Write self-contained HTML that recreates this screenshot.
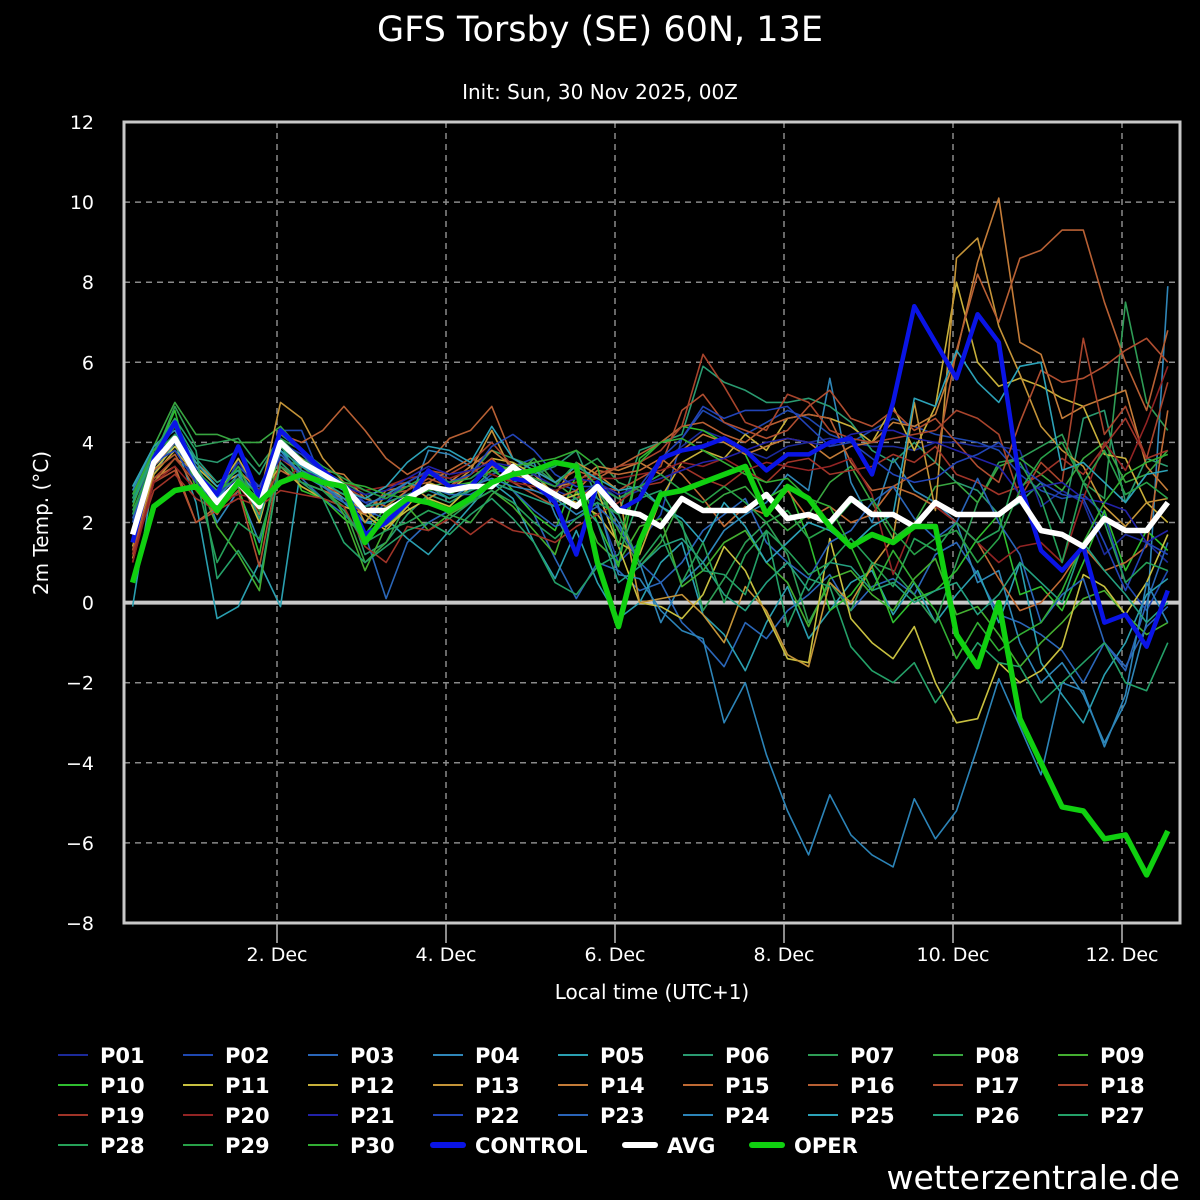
<!DOCTYPE html>
<html><head><meta charset="utf-8"><style>
html,body{margin:0;padding:0;background:#000;}
svg{display:block;font-family:"DejaVu Sans","Liberation Sans",sans-serif;}
</style></head><body>
<svg id="chart" width="1200" height="1200" viewBox="0 0 1200 1200" xmlns="http://www.w3.org/2000/svg">
<rect x="0" y="0" width="1200" height="1200" fill="#000"/>
<text x="600" y="41" fill="#fff" font-size="35" text-anchor="middle">GFS Torsby (SE) 60N, 13E</text>
<text x="600" y="99" fill="#fff" font-size="20" text-anchor="middle">Init: Sun, 30 Nov 2025, 00Z</text>
<g id="grid"></g>
<g id="series"></g>
<rect x="124" y="122" width="1056" height="801" fill="none" stroke="#c8c8c8" stroke-width="3"/>
<g id="axes"></g>
<text transform="translate(48,523) rotate(-90)" fill="#fff" font-size="20" text-anchor="middle">2m Temp. (°C)</text>
<text x="652" y="999" fill="#fff" font-size="20" text-anchor="middle">Local time (UTC+1)</text>
<g id="legend"></g>
<text x="1180" y="1189" fill="#fff" font-size="33" text-anchor="end">wetterzentrale.de</text>
</svg>
<script>
const yTicks = [12,10,8,6,4,2,0,-2,-4,-6,-8];
const yTickLabels = ["12","10","8","6","4","2","0","\u22122","\u22124","\u22126","\u22128"];
const xTickDays = [2,4,6,8,10,12];
const xTickLabels = ["2. Dec","4. Dec","6. Dec","8. Dec","10. Dec","12. Dec"];
const memberNames = ["P01","P02","P03","P04","P05","P06","P07","P08","P09","P10","P11","P12","P13","P14","P15","P16","P17","P18","P19","P20","P21","P22","P23","P24","P25","P26","P27","P28","P29","P30"];
const memberColors = ["#1c2a9a","#1f48b0","#2a66b8","#2f86b8","#2a9fb0","#2a9a70","#2e9c55","#38a640","#44ae30","#2fbd2f","#c8c040","#c8b03a","#c49438","#c47c38","#bf6a34","#b86034","#b04e30","#a8442c","#a03428","#922424","#2222a8","#2244b8","#2a64b8","#2c84b8","#2ca2b8","#24a080","#24a068","#26a058","#28a048","#32ae34"];
const P01=[2.0,3.5,4.2,3.0,2.6,3.5,2.8,4.0,3.5,3.2,3.0,2.5,2.2,2.8,3.2,3.0,3.1,3.4,3.2,3.0,2.8,2.6,3.0,2.6,2.8,3.5,3.9,4.3,4.1,3.8,3.6,3.9,4.0,4.1,4.0,3.9,3.9,3.8,4.0,4.0,3.9,3.9,3.8,2.4,2.8,2.5,1.2,1.7,1.5,1.0];
const P02=[2.2,3.8,4.0,3.0,2.4,3.6,2.5,4.3,4.3,3.0,2.6,2.0,2.5,3.0,3.3,3.1,2.8,3.2,3.4,3.6,3.0,2.8,2.4,1.0,1.5,2.2,4.1,4.8,4.5,4.2,4.5,4.8,4.6,4.2,4.0,4.3,4.6,4.4,4.2,4.1,4.0,3.8,3.2,2.8,2.6,2.7,2.2,0.5,-0.2,0.8];
const P03=[1.8,3.4,3.9,3.2,2.8,3.0,2.9,3.8,3.1,2.6,2.2,1.7,0.1,1.5,2.0,2.3,2.5,3.0,2.8,2.2,1.1,0.1,1.0,0.8,0.3,0.5,-0.5,-1.0,-1.6,-0.5,-0.9,-0.2,0.2,0.7,-0.2,0.4,0.6,0.2,1.2,1.5,0.7,-0.3,-0.5,-0.8,-1.2,-2.0,-1.0,-1.7,0.0,1.5];
const P04=[2.8,3.9,4.3,3.3,2.0,2.8,1.5,3.5,3.0,2.8,2.5,2.0,1.9,2.4,3.8,3.7,3.4,3.0,3.2,3.5,2.2,1.2,2.8,2.0,1.0,-0.5,0.5,1.0,1.8,2.2,2.5,3.2,2.8,5.6,3.0,2.0,3.6,2.8,2.5,2.0,0.5,0.8,-1.0,-2.0,-1.5,-2.3,-3.5,-2.5,-0.5,7.9];
const P05=[-0.1,3.2,4.0,2.5,-0.4,-0.1,1.0,-0.1,3.5,3.2,2.5,2.0,2.1,1.6,1.2,1.8,2.4,3.0,2.6,1.5,0.6,1.8,0.5,-0.4,0.0,1.0,1.5,-0.3,-0.8,-1.7,-0.5,0.4,-0.9,-0.2,0.5,0.8,-0.3,0.5,-0.5,0.2,0.8,-0.5,1.0,-1.5,-2.3,-3.0,-1.8,-1.0,0.2,0.6];
const P06=[2.6,3.7,4.2,3.6,3.5,3.8,3.2,4.2,3.8,3.3,2.8,1.2,1.5,2.2,2.7,2.5,2.8,3.3,3.0,3.2,3.4,3.8,2.6,2.2,3.8,4.0,4.2,5.9,5.5,5.3,5.0,5.0,5.1,4.9,4.5,3.8,3.5,4.0,3.5,3.0,2.8,2.2,2.5,3.0,2.0,4.6,4.8,2.5,3.6,3.4];
const P07=[2.5,3.6,4.9,3.9,4.0,4.1,3.4,4.1,3.6,3.3,3.0,2.7,2.2,2.5,2.9,3.0,3.2,3.8,3.6,3.4,3.0,3.3,3.6,3.0,2.8,2.4,2.0,-0.2,0.6,1.5,2.0,1.2,-0.5,0.5,-0.2,1.0,0.8,0.2,-0.5,1.0,2.5,3.5,3.6,3.9,4.2,3.0,2.6,7.5,5.0,4.3];
const P08=[2.9,3.9,5.0,4.2,4.2,4.0,4.0,4.4,3.8,2.8,2.4,1.0,1.5,2.5,2.6,2.2,2.0,2.7,3.1,3.6,3.0,2.6,2.9,1.8,0.9,1.5,2.6,2.3,2.7,2.9,2.3,1.8,2.2,3.0,3.4,2.5,1.6,2.0,2.9,3.0,2.5,3.4,3.6,3.2,2.8,3.6,4.0,3.0,3.2,3.8];
const P09=[2.4,3.8,4.6,3.2,1.9,1.2,0.3,3.6,3.4,3.0,2.2,0.8,1.9,2.4,1.8,2.2,2.5,2.8,2.4,1.8,1.2,2.8,1.5,1.0,1.9,2.1,0.4,0.8,1.5,1.8,1.0,0.5,-0.6,0.6,0.8,0.2,-0.2,0.6,1.1,-0.3,-0.1,-0.8,-1.6,-1.0,-0.5,0.1,0.3,-0.3,-0.8,-0.5];
const P10=[2.0,3.6,4.8,2.8,2.3,2.9,1.2,4.0,2.8,2.6,2.1,1.7,2.4,2.6,2.9,2.7,3.0,3.4,2.8,2.2,1.8,3.2,2.0,0.9,3.6,4.0,4.4,4.3,4.0,3.7,2.6,2.9,1.6,-0.2,0.2,0.9,-0.5,0.1,0.3,0.8,1.6,2.2,0.2,0.4,-0.2,1.0,2.3,0.8,1.8,1.3];
const P11=[1.5,3.3,3.9,3.4,2.9,3.2,2.0,3.9,3.6,3.0,2.6,2.3,1.9,2.3,2.6,2.4,2.9,3.4,3.3,3.0,2.5,2.7,2.8,1.4,0.0,-0.1,-0.4,0.2,1.4,0.8,-0.3,-1.4,-1.5,1.6,-0.4,-1.0,-1.4,-0.6,-2.0,-3.0,-2.9,-1.5,-2.0,-1.7,-1.1,0.7,0.4,-0.3,0.5,1.7];
const P12=[1.4,3.2,3.8,3.2,2.8,3.6,2.7,3.4,2.9,2.6,2.4,2.2,1.8,2.4,3.0,2.8,3.2,3.6,3.5,3.2,2.7,2.5,2.2,1.5,1.2,2.6,3.5,3.8,3.6,4.2,3.8,4.6,4.7,4.6,4.4,4.0,4.9,3.8,4.9,8.0,6.0,5.4,5.6,5.4,5.1,4.9,3.7,3.6,2.5,2.0];
const P13=[1.1,3.0,3.6,3.3,2.5,3.0,2.6,5.0,4.6,3.6,3.0,2.0,2.7,3.0,2.6,2.9,3.3,4.3,3.2,3.0,2.7,3.5,3.2,2.8,0.0,0.1,0.2,-0.3,-1.0,0.4,-0.2,-1.3,-1.6,0.5,0.0,0.9,1.6,5.0,2.3,8.6,9.1,6.9,5.7,4.4,3.8,3.4,2.4,1.9,2.5,2.6];
const P14=[1.3,3.4,4.0,3.5,3.0,3.3,2.8,4.0,3.5,3.3,3.2,2.6,2.4,2.8,3.2,3.0,3.4,3.8,3.4,3.1,2.9,3.0,3.4,3.3,3.5,3.2,3.8,4.2,4.0,3.7,3.9,4.1,4.0,3.6,3.9,4.0,4.5,4.4,4.7,6.2,8.5,10.1,6.5,6.2,4.6,4.9,5.1,5.3,3.4,2.8];
const P15=[1.2,3.1,3.4,2.0,2.4,2.9,2.5,3.3,3.0,2.8,2.6,2.2,2.8,2.9,3.0,3.3,3.6,3.4,3.2,2.8,2.6,2.8,3.3,3.2,3.3,3.6,3.2,2.6,1.9,2.4,2.2,2.8,2.1,2.4,2.0,2.2,2.9,2.7,2.4,2.0,1.5,0.6,-0.2,0.0,0.6,1.4,0.8,1.0,1.4,4.8];
const P16=[1.7,3.3,3.7,2.8,2.2,3.0,2.2,4.2,4.0,4.3,4.9,4.3,3.6,3.2,3.5,4.1,4.3,4.9,3.6,3.3,3.0,3.3,3.1,3.4,3.7,4.0,4.4,4.5,4.2,4.0,4.4,4.6,4.7,4.6,3.5,2.8,2.9,3.2,3.5,6.3,8.2,7.0,8.6,8.8,9.3,9.3,7.5,6.0,4.8,6.8];
const P17=[1.3,3.0,3.3,2.0,2.3,2.8,0.9,3.6,3.2,2.9,2.7,2.4,2.7,2.8,3.1,2.9,3.2,3.6,3.0,2.7,2.4,2.6,2.9,2.8,3.1,3.4,4.8,5.2,4.5,4.3,4.1,4.3,4.9,5.3,4.6,4.4,4.8,4.3,4.6,4.0,3.4,3.0,4.5,5.8,5.5,5.6,5.9,6.3,6.6,6.0];
const P18=[1.0,3.1,3.6,3.0,2.6,2.9,2.3,3.4,3.1,3.0,2.9,2.6,2.9,3.0,3.3,3.2,3.5,4.0,3.4,3.1,2.9,3.1,3.2,3.4,3.5,3.8,4.4,6.2,5.4,4.5,4.3,5.2,5.0,4.3,4.1,4.0,4.1,4.2,4.3,4.8,4.6,4.2,2.6,3.5,3.0,6.6,4.2,4.9,3.6,5.5];
const P19=[1.2,2.8,3.2,2.6,2.3,2.6,2.4,2.8,2.7,2.6,2.4,1.4,1.0,1.9,1.8,2.1,1.7,2.1,1.8,1.7,1.5,1.9,2.2,2.5,2.9,3.0,3.4,3.1,2.9,3.3,3.0,3.5,3.6,3.2,3.3,3.4,3.7,3.5,3.9,3.2,3.0,2.7,2.9,3.2,3.6,3.2,3.9,4.6,3.6,3.8];
const P20=[1.0,3.0,3.4,2.8,2.5,2.7,2.6,3.0,3.4,3.2,3.0,2.8,2.9,3.1,3.2,3.1,3.3,3.2,3.0,2.9,2.8,3.0,3.1,3.1,3.2,3.3,3.5,3.4,3.6,3.3,3.5,3.4,3.3,3.4,3.6,2.7,0.7,2.0,2.4,2.0,1.5,1.0,1.4,1.5,1.0,2.6,4.0,3.3,4.5,5.9];
const P21=[1.8,3.5,4.0,3.1,2.7,3.1,2.8,3.6,3.3,3.1,2.9,2.7,2.8,3.1,3.4,3.2,3.3,3.5,3.4,3.2,2.9,3.1,3.0,2.7,2.9,3.1,3.3,3.5,3.6,3.8,4.0,4.1,4.0,3.9,4.2,4.3,4.3,4.1,4.0,3.8,3.6,3.4,2.7,2.9,3.0,2.6,2.5,2.3,1.5,1.8];
const P22=[2.0,3.5,3.8,3.0,2.6,3.4,2.9,4.0,3.7,3.2,2.8,2.5,2.6,3.0,3.3,3.0,3.2,3.9,4.2,3.8,3.2,2.9,2.9,2.6,2.9,3.6,4.1,4.9,4.6,4.8,4.8,4.9,4.4,3.9,4.0,3.6,3.2,3.0,3.1,3.5,3.7,4.0,3.4,3.0,2.7,2.6,1.5,0.3,1.5,1.2];
const P23=[2.1,3.6,4.1,3.3,2.5,2.9,2.6,3.7,3.2,2.9,2.5,2.3,2.1,2.6,2.9,2.7,2.7,3.0,2.8,2.3,1.9,2.1,2.4,1.9,1.0,0.5,1.0,1.8,2.2,2.6,1.5,1.0,0.6,1.5,1.8,2.5,2.9,2.1,1.6,2.0,3.1,2.0,1.2,-0.5,0.2,0.6,-1.0,-1.6,-0.6,-0.1];
const P24=[2.7,3.8,4.4,3.4,2.6,3.2,2.4,3.8,3.2,2.9,2.6,2.4,2.7,3.0,2.8,2.6,2.9,3.1,2.9,2.8,2.6,2.2,2.5,0.7,0.6,-0.2,-0.7,-0.9,-3.0,-2.0,-3.8,-5.2,-6.3,-4.8,-5.8,-6.3,-6.6,-4.9,-5.9,-5.2,-3.6,-1.9,-3.1,-4.3,-2.0,-2.2,-3.6,-2.3,0.5,-0.5];
const P25=[2.9,3.9,4.4,3.5,2.9,3.3,2.6,3.8,3.4,3.1,2.8,2.6,2.9,3.5,3.9,3.8,3.5,4.4,3.6,3.3,3.0,3.4,3.1,2.8,2.9,2.4,2.1,1.5,2.5,1.9,1.0,1.5,2.0,1.8,1.4,1.9,2.2,5.1,4.9,6.3,5.5,5.0,5.9,6.0,3.3,3.5,3.0,2.5,3.2,3.3];
const P26=[2.5,3.7,4.5,3.6,3.0,3.3,2.1,3.9,3.3,3.0,2.7,2.4,2.5,2.7,2.9,2.6,2.8,3.0,2.8,2.6,2.4,2.6,2.0,0.5,0.9,1.4,1.6,1.0,0.2,-0.2,0.5,1.0,0.3,1.0,0.9,0.3,0.5,0.0,0.3,0.5,-0.3,0.2,1.0,0.5,0.0,1.5,0.8,0.2,-0.5,0.0];
const P27=[2.6,3.8,4.6,3.8,0.6,1.3,0.5,3.5,3.0,2.6,1.5,1.0,1.4,1.8,2.0,1.7,2.2,2.6,2.1,1.5,0.5,0.2,0.9,1.2,2.6,2.8,1.9,0.8,0.7,0.2,1.8,-0.6,0.6,0.4,-1.1,-1.7,-2.0,-1.5,-2.5,-1.8,-1.0,-1.5,-1.6,-2.5,-2.0,-1.5,-1.0,-2.0,-2.2,-1.0];
const P28=[2.3,3.5,4.2,3.1,1.0,2.0,1.6,3.4,3.0,2.8,2.3,1.5,1.8,2.0,2.3,2.1,2.5,2.8,2.5,2.0,1.6,2.1,2.5,2.2,1.0,1.7,0.5,1.5,0.0,1.2,1.8,1.3,0.7,1.0,1.6,1.0,0.4,1.6,1.3,2.0,1.5,1.8,3.5,2.6,1.0,3.0,2.0,0.5,1.0,0.8];
const P29=[2.2,3.6,4.4,3.3,2.8,3.1,2.7,4.1,3.8,3.4,3.1,2.8,2.6,2.9,3.2,3.0,3.1,3.5,3.3,3.1,2.9,3.5,2.9,2.6,2.9,3.2,2.8,2.5,2.9,2.5,2.0,2.3,1.6,1.9,2.5,2.6,1.8,1.2,1.6,1.8,1.0,1.6,2.8,3.6,4.0,3.0,3.8,2.7,3.0,2.6];
const P30=[2.7,3.8,4.1,3.2,2.7,3.4,2.3,3.9,3.5,3.2,3.0,2.9,2.7,2.6,2.8,2.9,3.0,3.3,3.4,3.5,3.6,3.8,3.4,1.4,3.5,4.0,4.1,3.8,3.5,3.2,3.0,3.1,2.6,2.4,1.4,0.3,1.3,0.5,-0.2,-1.4,-0.5,-1.2,-0.8,-0.5,0.3,1.5,2.5,3.2,3.5,3.7];
const members=[P01,P02,P03,P04,P05,P06,P07,P08,P09,P10,P11,P12,P13,P14,P15,P16,P17,P18,P19,P20,P21,P22,P23,P24,P25,P26,P27,P28,P29,P30];
const control=[1.5,3.6,4.5,3.2,2.7,3.9,2.6,4.3,3.8,3.3,2.9,1.7,2.0,2.5,3.3,2.9,2.9,3.5,3.1,3.0,2.5,1.2,3.0,2.3,2.6,3.6,3.8,3.9,4.1,3.8,3.3,3.7,3.7,4.0,4.1,3.2,5.0,7.4,6.5,5.6,7.2,6.5,3.0,1.3,0.8,1.4,-0.5,-0.3,-1.1,0.3];
const avg=[1.7,3.5,4.1,3.2,2.5,3.0,2.4,4.0,3.5,3.2,2.9,2.3,2.3,2.6,2.9,2.8,2.9,2.9,3.4,3.0,2.7,2.4,2.9,2.3,2.2,1.9,2.6,2.3,2.3,2.3,2.7,2.1,2.2,2.0,2.6,2.2,2.2,1.9,2.5,2.2,2.2,2.2,2.6,1.8,1.7,1.4,2.1,1.8,1.8,2.5];
const oper=[0.5,2.4,2.8,2.9,2.3,3.0,2.5,3.0,3.2,3.0,2.9,1.5,2.2,2.6,2.5,2.3,2.6,3.0,3.2,3.3,3.5,3.4,1.0,-0.6,1.5,2.7,2.8,3.0,3.2,3.4,2.2,2.9,2.6,1.9,1.4,1.7,1.5,1.9,1.9,-0.8,-1.6,0.0,-2.9,-4.0,-5.1,-5.2,-5.9,-5.8,-6.8,-5.7];

const NS="http://www.w3.org/2000/svg";
const X0=124, X1=1180, Y0=122, Y1=923;
const yMin=-8, yMax=12;
const dayPx=84.5, day2X=277;
const startHours=-41;
function yScale(v){return Y1-(v-yMin)/(yMax-yMin)*(Y1-Y0);}
function xScaleHours(h){return day2X+h/24*dayPx;}
function xIdx(i){return xScaleHours(startHours+i*6);}
function mk(tag,attrs,parent){const e=document.createElementNS(NS,tag);for(const k in attrs)e.setAttribute(k,attrs[k]);parent.appendChild(e);return e;}

const grid=document.getElementById('grid'), axes=document.getElementById('axes');
yTicks.forEach((t,i)=>{
  const y=yScale(t);
  if(t!==0 && t!==yMax && t!==yMin){
    const l=mk('line',{x1:X0,x2:X1,y1:y,y2:y,stroke:'#8a8a8a','stroke-width':1.5,'stroke-dasharray':'6,5'},grid);
    
    
  }
  const tx=mk('text',{x:94,y:y+7,fill:'#fff','font-size':19,'text-anchor':'end'},axes);
  tx.textContent=yTickLabels[i];
  
  
});
const zl=mk('line',{x1:X0,x2:X1,y1:yScale(0),y2:yScale(0),stroke:'#c8c8c8','stroke-width':4},grid);


xTickDays.forEach((d,i)=>{
  const x=xScaleHours((d-2)*24);
  const l=mk('line',{x1:x,x2:x,y1:Y0,y2:Y1,stroke:'#8a8a8a','stroke-width':1.5,'stroke-dasharray':'6,5'},grid);
  
  
  const tk=mk('line',{x1:x,x2:x,y1:Y1,y2:Y1+20,stroke:'#bbb','stroke-width':1.5},axes);
  
  
  const tx=mk('text',{x:x,y:961,fill:'#fff','font-size':19,'text-anchor':'middle'},axes);
  tx.textContent=xTickLabels[i];
  
  
});

const series=document.getElementById('series');
function pathFor(arr){return arr.map((v,i)=>(i?'L':'M')+xIdx(i).toFixed(1)+','+yScale(v).toFixed(1)).join(' ');}
members.forEach((arr,k)=>{
  const p=mk('path',{d:pathFor(arr),fill:'none',stroke:memberColors[k],'stroke-width':1.6,'stroke-linejoin':'round'},series);
  
  
});
const pc=mk('path',{d:pathFor(control),fill:'none',stroke:'#0a14e6','stroke-width':4.5,'stroke-linejoin':'round'},series);


const pa=mk('path',{d:pathFor(avg),fill:'none',stroke:'#ffffff','stroke-width':5.5,'stroke-linejoin':'round'},series);


const po=mk('path',{d:pathFor(oper),fill:'none',stroke:'#10d010','stroke-width':5.5,'stroke-linejoin':'round'},series);



const legend=document.getElementById('legend');
const rowsY=[1055,1085,1115,1145];
memberNames.forEach((n,k)=>{
  const col=k%9,row=Math.floor(k/9);
  const lx=58+col*125, y=rowsY[row];
  const l=mk('line',{x1:lx,x2:lx+30,y1:y,y2:y,stroke:memberColors[k],'stroke-width':2},legend);
  
  
  const t=mk('text',{x:lx+42,y:y+8,fill:'#fff','font-size':21,'font-weight':'bold'},legend);
  t.textContent=n;
  
  
});
const extra=[["CONTROL","#0a14e6",433],["AVG","#ffffff",625],["OPER","#10d010",752]];
extra.forEach(e=>{
  const y=1145;
  const l=mk('line',{x1:e[2],x2:e[2]+30,y1:y,y2:y,stroke:e[1],'stroke-width':6,'stroke-linecap':'round'},legend);
  
  
  const t=mk('text',{x:e[2]+42,y:y+8,fill:'#fff','font-size':21,'font-weight':'bold'},legend);
  t.textContent=e[0];
  
  
});
</script>
</body></html>
